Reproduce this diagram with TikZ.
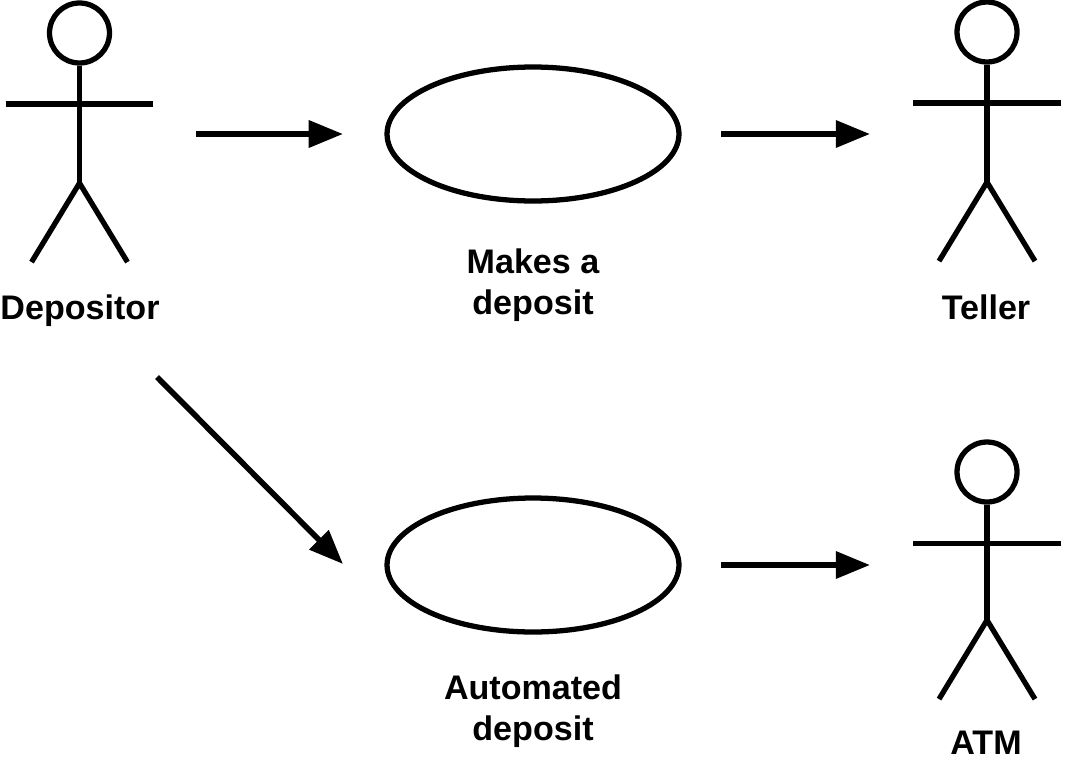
\documentclass[tikz,border=0pt]{standalone}
\usepackage{fontspec}
\setmainfont{Liberation Sans}
\usetikzlibrary{arrows.meta,positioning,shapes.geometric}

\tikzset{
  stroke/.style={line width=3pt},
  usecase/.style={stroke,ellipse,draw,minimum width=5.84cm,minimum height=2.68cm,inner sep=0pt},
  head/.style={stroke,circle,draw,minimum size=1.2cm,inner sep=0pt},
  caption/.style={font=\fontsize{19.4}{23.6}\selectfont\bfseries,align=center,inner sep=0pt},
  flow/.style={line width=3.2pt,-{Triangle[length=19.5pt,width=15pt]}}
}

\newcommand{\actor}[3]{%
  \node[head] (#1head) at (#2) {};
  \coordinate (#1hip) at ([yshift=-#3]#1head.south);
  \coordinate (#1neck) at ([yshift=-0.77cm]#1head.south);
  \coordinate (#1larm) at ([xshift=-1.48cm]#1neck);
  \coordinate (#1rarm) at ([xshift=1.48cm]#1neck);
  \coordinate (#1lleg) at ([xshift=-0.96cm,yshift=-1.58cm]#1hip);
  \coordinate (#1rleg) at ([xshift=0.96cm,yshift=-1.58cm]#1hip);
  \draw[stroke] (#1head.south) -- (#1hip);
  \draw[stroke] (#1larm) -- (#1rarm);
  \draw[stroke] (#1lleg) -- (#1hip) -- (#1rleg);
}

\begin{document}
\begin{tikzpicture}[x=0.02cm,y=-0.02cm]
        \useasboundingbox (0,0) rectangle (1067,758);

        \actor{depositor}{79.5,33}{2.35cm}
        \actor{teller}{987,32}{2.35cm}
        \actor{atm}{987,472}{2.31cm}

        \node[caption] (depositor) at (80,311) {Depositor};
        \node[caption] (teller) at (986,307) {Teller};
        \node[caption] (atm) at (986,743) {ATM};

        \node[usecase] (deposit) at (533,134) {};
        \node[usecase] (automated) at (533,565) {};
        \node[caption] (depositlabel) at (533,285) {Makes a\\deposit};
        \node[caption] (automatedlabel) at (533,711) {Automated\\deposit};

        \coordinate (a1) at (196,134);
        \coordinate (a2) at (343,134);
        \coordinate (b1) at (721,134);
        \coordinate (b2) at (870,134);
        \coordinate (c1) at (157,377);
        \coordinate (c2) at (343,564);
        \coordinate (d1) at (721,565);
        \coordinate (d2) at (870,565);
        \draw[flow] (a1) -- (a2);
        \draw[flow] (b1) -- (b2);
        \draw[flow] (c1) -- (c2);
        \draw[flow] (d1) -- (d2);
      \end{tikzpicture}
\end{document}
